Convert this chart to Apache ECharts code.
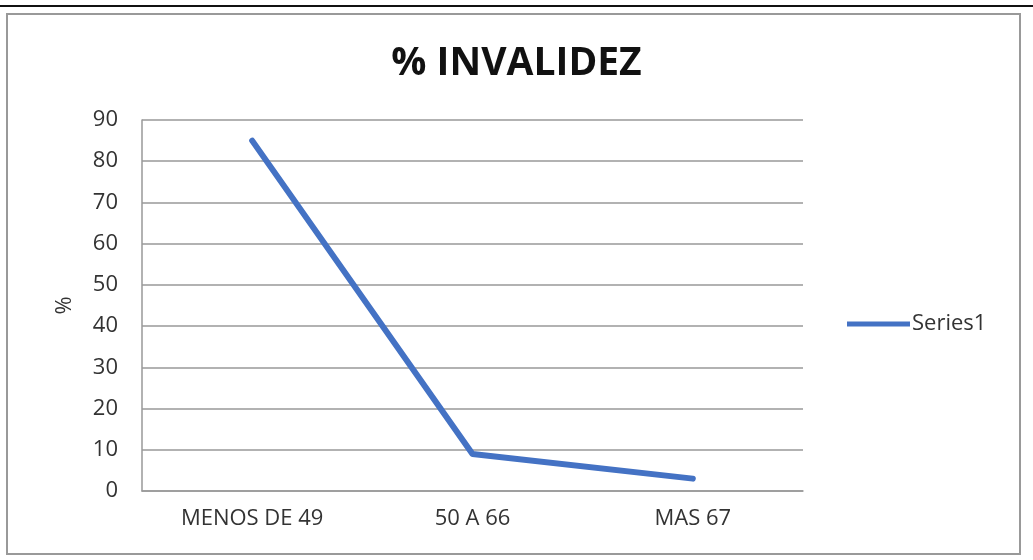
<!DOCTYPE html>
<html>
<head>
<meta charset="utf-8">
<script src="https://cdn.jsdelivr.net/npm/echarts@6/dist/echarts.min.js"></script>
<style>
  html, body { margin: 0; padding: 0; background: #fff; }
  #chart { width: 1033px; height: 560px; }
</style>
</head>
<body>
<div id="chart"></div>
<script>
var categories = ['MENOS DE 49', '50 A 66', 'MAS 67'];
var values = [85, 9, 3];
var yTicks = { min: 0, max: 90, step: 10 };

var chart = echarts.init(document.getElementById('chart'));
chart.setOption({
    backgroundColor: '#fff',
    animation: false,
    graphic: [
        { type: 'line', shape: { x1: 0, y1: 6, x2: 1033, y2: 6 }, style: { stroke: '#111', lineWidth: 2 } },
        { type: 'rect', shape: { x: 7, y: 14, width: 1013, height: 540 }, style: { fill: 'none', stroke: '#999', lineWidth: 2 } }
    ],
    title: {
        text: '% INVALIDEZ',
        left: 'center',
        top: 39,
        textStyle: { fontFamily: 'Open Sans', fontWeight: 'bold', fontSize: 39, color: '#111' }
    },
    legend: {
        left: 842,
        top: 308,
        orient: 'vertical',
        itemWidth: 63,
        itemHeight: 14,
        itemGap: 0,
        data: [{ name: 'Series1', icon: 'path://M0,5 L63,5 L63,10 L0,10 Z' }],
        textStyle: { fontFamily: 'Open Sans', fontSize: 22, color: '#333', padding: [0, 0, 0, -3] }
    },
    grid: { left: 142, right: 230, top: 120, bottom: 69 },
    xAxis: {
        type: 'category',
        data: categories,
        boundaryGap: true,
        axisLine: { lineStyle: { color: '#999', width: 1.5 } },
        axisTick: { show: false },
        axisLabel: { fontFamily: 'Open Sans', fontSize: 22, color: '#333', margin: 17 }
    },
    yAxis: {
        type: 'value',
        min: yTicks.min,
        max: yTicks.max,
        interval: yTicks.step,
        name: '%',
        nameLocation: 'middle',
        nameRotate: 90,
        nameGap: 66,
        nameTextStyle: { fontFamily: 'Open Sans', fontSize: 22, color: '#333' },
        axisLine: { show: true, lineStyle: { color: '#999', width: 1.5 } },
        axisTick: { show: false },
        axisLabel: { fontFamily: 'Open Sans', fontSize: 22, color: '#333', margin: 24 },
        splitLine: { lineStyle: { color: '#999', width: 1.5 } }
    },
    series: [{
        name: 'Series1',
        type: 'line',
        data: values,
        symbol: 'none',
        itemStyle: { color: '#4472C4' },
        lineStyle: { color: '#4472C4', width: 6, cap: 'round', join: 'round' }
    }]
});
</script>
</body>
</html>
